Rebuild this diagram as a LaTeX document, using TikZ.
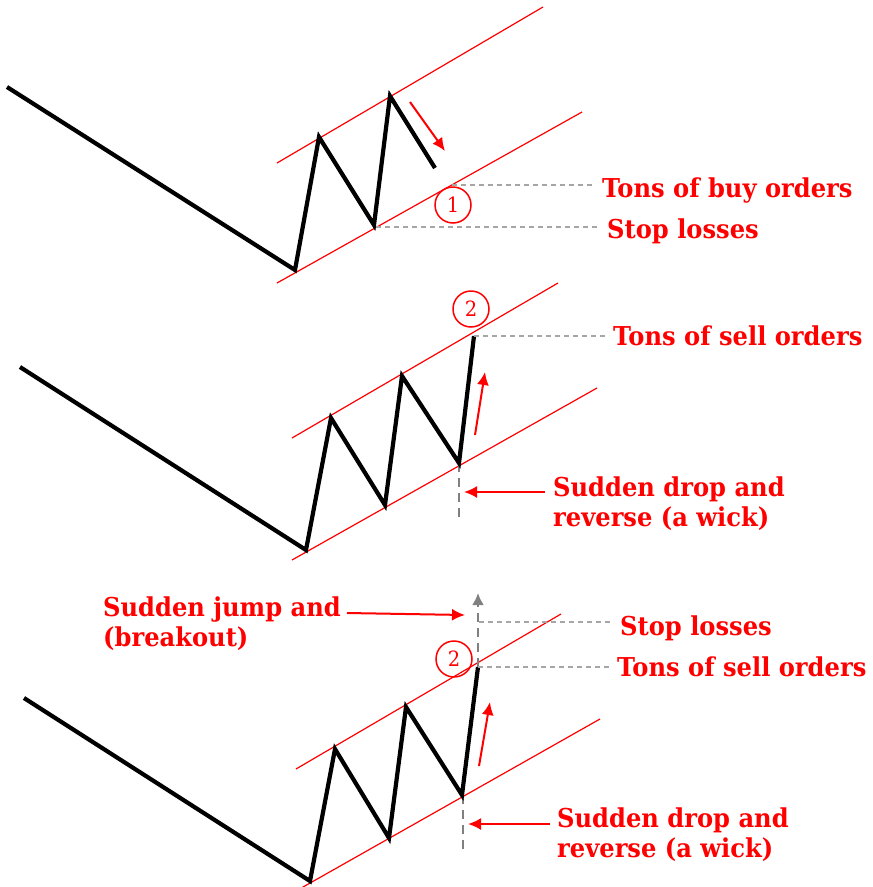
\documentclass[tikz,border=0pt]{standalone}
\usepackage{fontspec}
\newfontfamily\lblfont[FakeStretch=0.93]{DejaVu Serif}
\usetikzlibrary{arrows.meta}

\tikzset{
  price/.style={line width=4.2pt, black},
  channel/.style={red, line width=1.2pt},
  level/.style={gray!70, line width=1.5pt, dash pattern=on 5pt off 4pt},
  wick/.style={gray, line width=2.5pt, dash pattern=on 9pt off 6pt},
  push/.style={red, line width=2pt, -{Latex[length=13pt,width=12pt]}},
  lbl/.style={text=red, font=\lblfont\bfseries\fontsize{26}{30}\selectfont,
    inner sep=0pt, anchor=base west, align=left},
  num/.style={circle, draw=red, line width=1.5pt, minimum size=36pt, inner sep=0pt,
    text=red, font=\lblfont\fontsize{21}{21}\selectfont}
}

\begin{document}
\begin{tikzpicture}[x=1pt, y=-1pt]
    \useasboundingbox (0,0) rectangle (873,887);

    % first chart
    \draw[channel] (277,163) -- (543,7);
    \draw[channel] (277,283) -- (582,112);
    \draw[price] (7,87) -- (295,270) -- (319,137) -- (374,225) -- (390,96) -- (435,168);
    \draw[push] (410,102) -- (445,151);
    \node[num] (one) at (453,205) {1};
    \draw[level] (452,185) -- (595,185);
    \draw[level] (376,227) -- (600,227);
    \node[lbl] (buy) at (602,197) {Tons of buy orders};
    \node[lbl] (stopA) at (607,238) {Stop losses};

    % second chart
    \draw[channel] (292,438) -- (558,283);
    \draw[channel] (292,560) -- (597,388);
    \draw[wick] (459,463) -- (459,522);
    \draw[price] (20,367) -- (306,550) -- (331,418) -- (385,505) -- (402,376) -- (459,463) -- (474,336);
    \draw[push] (475,435) -- (485,372);
    \node[num] (twoA) at (471,309) {2};
    \draw[level] (474,336) -- (609,336);
    \node[lbl] (sellA) at (613,345) {Tons of sell orders};
    \node[lbl] (dropA) at (553,526) {Sudden drop and\\reverse (a wick)};
    \draw[push] (545,492) -- (464,492);

    % third chart
    \draw[channel] (296,769) -- (561,614);
    \draw[channel] (296,891) -- (600,719);
    \draw[wick] (463,795) -- (463,853);
    \draw[wick, -{Latex[length=12pt,width=12pt]}] (478,667) -- (478,593);
    \draw[price] (24,698) -- (310,881) -- (335,749) -- (389,838) -- (406,707) -- (462,795) -- (478,667);
    \draw[push] (479,766) -- (490,702);
    \node[num] (twoB) at (454,659) {2};
    \draw[level] (479,622) -- (612,622);
    \draw[level] (478,667) -- (612,667);
    \node[lbl] (stopB) at (620,635) {Stop losses};
    \node[lbl] (sellB) at (617,676) {Tons of sell orders};
    \node[lbl] (jump) at (103,646) {Sudden jump and\\(breakout)};
    \draw[push] (347,613) -- (465,615);
    \node[lbl] (dropB) at (557,857) {Sudden drop and\\reverse (a wick)};
    \draw[push] (550,824) -- (468,824);
\end{tikzpicture}
\end{document}
